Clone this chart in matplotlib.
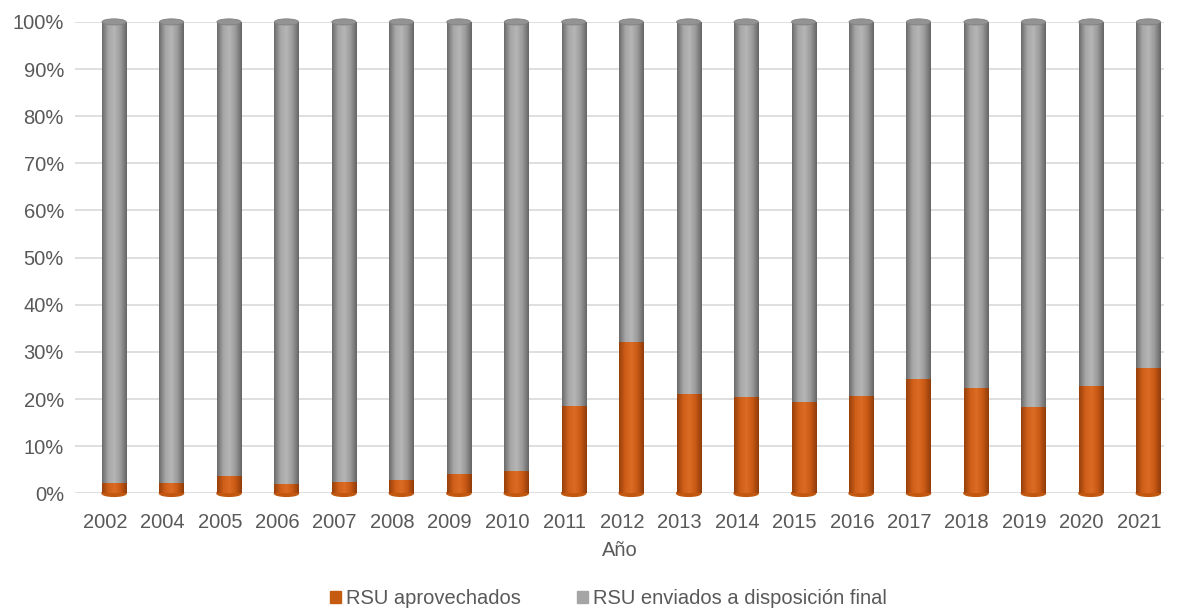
import matplotlib.pyplot as plt
import numpy as np
from matplotlib.patches import Ellipse, Patch
from matplotlib.colors import LinearSegmentedColormap
from matplotlib.ticker import FuncFormatter

plt.rcParams['font.family'] = ['Liberation Sans', 'DejaVu Sans']

years = ['2002', '2004', '2005', '2006', '2007', '2008', '2009', '2010', '2011', '2012',
         '2013', '2014', '2015', '2016', '2017', '2018', '2019', '2020', '2021']
aprovechados = [2.1, 2.1, 3.7, 2.0, 2.3, 2.8, 4.0, 4.8, 18.5, 32.2,
                21.1, 20.4, 19.3, 20.7, 24.2, 22.3, 18.4, 22.7, 26.5]
disposicion = [100 - a for a in aprovechados]

orange = '#C55A11'
gray = '#A5A5A5'
txt_color = '#595959'

cm_orange = LinearSegmentedColormap.from_list(
    'o', ['#97400c', '#cf5e18', '#dc6c24', '#c85914', '#8f3c0a'])
cm_gray = LinearSegmentedColormap.from_list(
    'g', ['#6b6b6b', '#a6a6a6', '#b6b6b6', '#9a9a9a', '#666666'])

fig = plt.figure(figsize=(11.81, 6.09), dpi=100)
ax = fig.add_axes([0.0635, 0.19, 0.922, 0.774])

x = np.arange(len(years))
xb = x + 0.16
w = 0.42
cap = 1.3

b1 = ax.bar(xb, aprovechados, w, color=orange, zorder=3)
b2 = ax.bar(xb, disposicion, w, bottom=aprovechados, color=gray, zorder=3)

grad = np.linspace(0, 1, 64).reshape(1, -1)
for bars, cmap in [(b1, cm_orange), (b2, cm_gray)]:
    for p in bars:
        x0, y0 = p.get_x(), p.get_y()
        im = ax.imshow(grad, cmap=cmap, aspect='auto', zorder=4,
                       extent=[x0, x0 + p.get_width(), y0, y0 + p.get_height()])
        im.set_clip_path(p)

for xi, a in zip(xb, aprovechados):
    # rounded bottom of each cylinder
    ax.add_patch(Ellipse((xi, 0), w, cap, color='#c2580f', zorder=2, clip_on=False))
    # top cap
    ax.add_patch(Ellipse((xi, 100), w, cap, facecolor='#939393', edgecolor='#808080',
                         lw=0.6, zorder=5, clip_on=False))

ax.set_xlim(-0.52, 18.43)
ax.set_ylim(0, 100)
ax.set_yticks(np.arange(0, 101, 10))
ax.yaxis.set_major_formatter(FuncFormatter(lambda v, p: '{:.0f}%'.format(v)))
ax.set_xticks(x)
ax.set_xticklabels(years)
ax.tick_params(axis='both', length=0, labelsize=14.5, colors=txt_color)
ax.tick_params(axis='x', pad=14)
ax.tick_params(axis='y', pad=8)
ax.grid(axis='y', color='#d9d9d9', lw=1.2, zorder=0)
ax.set_axisbelow(True)
for s in ax.spines.values():
    s.set_visible(False)
ax.set_xlabel('Año', fontsize=14.5, color=txt_color, labelpad=7)

handles = [Patch(color=orange, label='RSU aprovechados'),
           Patch(color=gray, label='RSU enviados a disposición final')]
leg = fig.legend(handles=handles, loc='center', bbox_to_anchor=(0.515, 0.017), ncol=2,
                 frameon=False, fontsize=14.5, handlelength=0.55, handleheight=0.55,
                 handletextpad=0.25, columnspacing=2.8)
for t in leg.get_texts():
    t.set_color(txt_color)

fig.savefig('out.png', dpi=100, facecolor='white')
